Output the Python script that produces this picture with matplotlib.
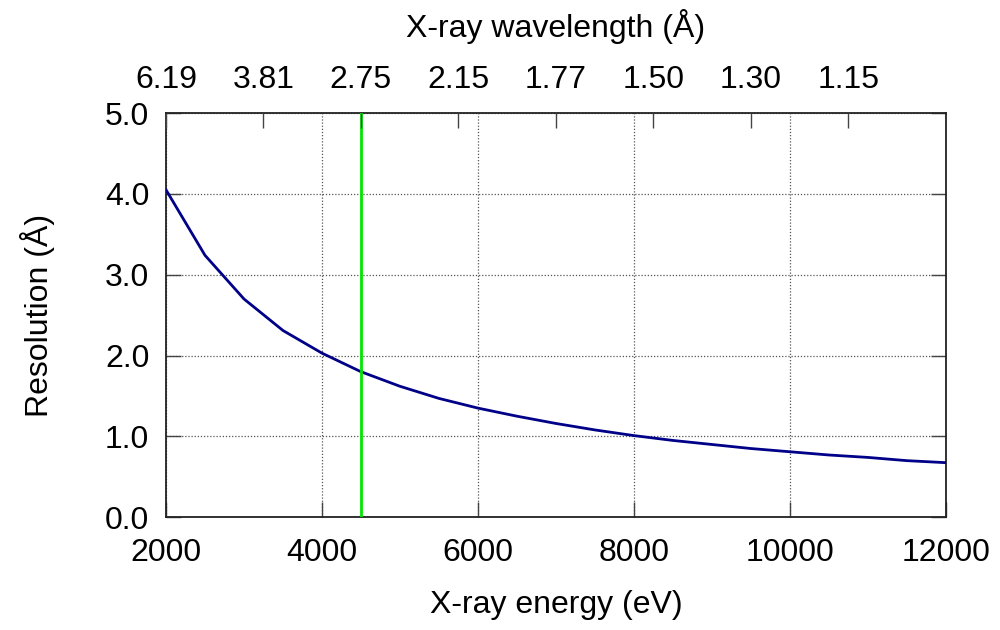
import numpy as np
import matplotlib
matplotlib.use("Agg")
import matplotlib.pyplot as plt

plt.rcParams["font.family"] = ["Liberation Sans", "DejaVu Sans"]

# resolution curve
ENERGY_EV = [2000, 2500, 3000, 3500, 4000, 4500, 5000, 5500, 6000, 6500, 7000,
             7500, 8000, 8500, 9000, 9500, 10000, 10500, 11000, 11500, 12000]
RESOLUTION_A = [4.05, 3.24, 2.70, 2.31, 2.03, 1.80, 1.62, 1.47, 1.35, 1.25, 1.16,
                1.08, 1.01, 0.95, 0.90, 0.85, 0.81, 0.77, 0.74, 0.70, 0.675]

MARK_EV = 4500

# top axis: wavelength labels at energy positions
WAVE_TICK_EV = [2000, 3250, 4500, 5750, 7000, 8250, 9500, 10750]
WAVE_TICK_LABELS = ["6.19", "3.81", "2.75", "2.15", "1.77", "1.50", "1.30", "1.15"]

X_TICKS = [2000, 4000, 6000, 8000, 10000, 12000]
Y_TICKS = [0.0, 1.0, 2.0, 3.0, 4.0, 5.0]

FS = 23


def main():
    fig = plt.figure(figsize=(10, 6.3), dpi=100)
    ax = fig.add_axes([0.166, 0.179, 0.7797, 0.6416])

    ax.plot(ENERGY_EV, RESOLUTION_A, color="#000088", lw=2.0, zorder=3)
    ax.axvline(MARK_EV, color="#00e600", lw=2.0, zorder=4)

    ax.set_xlim(2000, 12000)
    ax.set_ylim(0, 5)
    ax.set_xticks(X_TICKS)
    ax.set_yticks(Y_TICKS)
    ax.set_yticklabels([f"{v:.1f}" for v in Y_TICKS])
    ax.grid(True, color="#555555", ls=(0, (1, 1.5)), lw=0.9)
    ax.tick_params(axis="x", direction="in", length=11, width=1,
                   color="#444444", labelsize=FS, pad=15, top=False)
    ax.tick_params(axis="y", direction="in", length=11, width=1,
                   color="#444444", labelsize=FS, pad=12, right=True)
    ax.set_xlabel("X-ray energy (eV)", fontsize=FS, labelpad=16)
    ax.set_ylabel("Resolution (Å)", fontsize=FS, labelpad=36)
    for s in ax.spines.values():
        s.set_linewidth(1.3)
        s.set_color("#222222")

    ax2 = ax.twiny()
    ax2.set_xlim(ax.get_xlim())
    ax2.set_xticks(WAVE_TICK_EV)
    ax2.set_xticklabels(WAVE_TICK_LABELS)
    ax2.tick_params(axis="x", direction="in", length=11, width=1,
                    color="#444444", labelsize=FS, pad=13)
    ax2.set_xlabel("X-ray wavelength (Å)", fontsize=FS, labelpad=20)
    for s in ax2.spines.values():
        s.set_visible(False)

    fig.savefig("out.png", dpi=100)
    plt.close(fig)


if __name__ == "__main__":
    main()
